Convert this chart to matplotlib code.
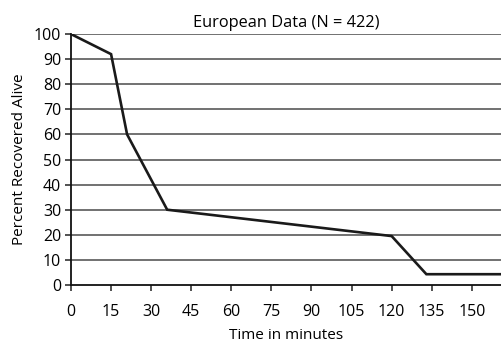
import matplotlib
matplotlib.use("Agg")
import matplotlib.pyplot as plt

# values
minutes = [0, 15, 21, 36, 120, 133, 161]
pct_alive = [100, 92, 60, 30, 19.5, 4.3, 4.3]
x_ticks = [0, 15, 30, 45, 60, 75, 90, 105, 120, 135, 150]
y_ticks = [0, 10, 20, 30, 40, 50, 60, 70, 80, 90, 100]

plt.rcParams["font.family"] = ["Open Sans", "DejaVu Sans"]

fig = plt.figure(figsize=(5.02, 3.44), dpi=100)
ax = fig.add_axes([0.1414, 0.1715, 0.857, 0.7295])

for y in y_ticks[1:]:
    ax.axhline(y, color="#4a4a4a", linewidth=1.1, zorder=1)

ax.plot(minutes, pct_alive, color="#1a1a1a", linewidth=1.9, zorder=3,
        solid_joinstyle="miter")

ax.set_xlim(0, 161)
ax.set_ylim(0, 100)
ax.set_xticks(x_ticks)
ax.set_yticks(y_ticks)
ax.tick_params(axis="both", labelsize=11.5, color="#222222", length=4,
               width=1.1, pad=3)
ax.tick_params(axis="x", pad=10)

for side in ("top", "right"):
    ax.spines[side].set_visible(False)
for side in ("left", "bottom"):
    ax.spines[side].set_color("#111111")
    ax.spines[side].set_linewidth(1.3)

ax.set_title("European Data (N = 422)", fontsize=11.8, pad=5)
ax.set_xlabel("Time in minutes", fontsize=11, labelpad=5.5)
ax.set_ylabel("Percent Recovered Alive", fontsize=11, labelpad=5)

fig.savefig("out.png", dpi=100)
